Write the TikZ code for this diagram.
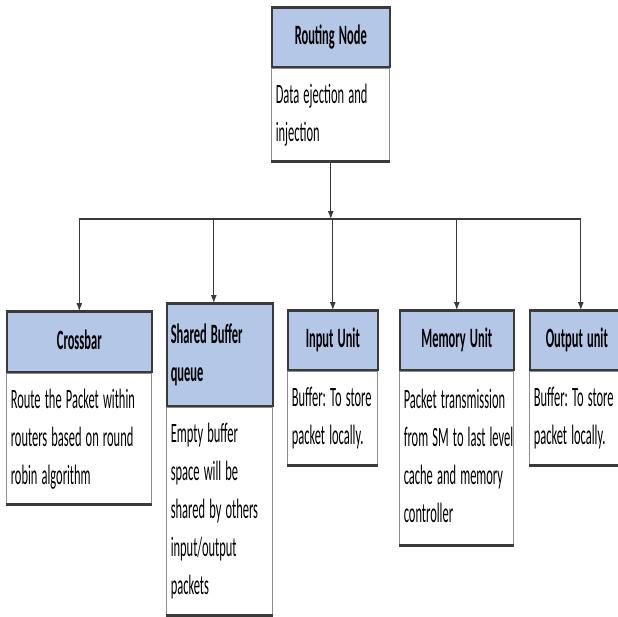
\documentclass[tikz,border=0pt]{standalone}
\usepackage{graphicx}
\usepackage{fontspec}
\setmainfont{Carlito}
\frenchspacing
\usetikzlibrary{arrows.meta,positioning}
\definecolor{hdblue}{HTML}{B4C7E7}
\definecolor{edgegray}{HTML}{8C8C8C}
\definecolor{linedark}{HTML}{3A3A3A}
% condensed lines of box text
\newcommand{\narrow}[1]{\scalebox{0.445}[1]{\begin{tabular}{@{}l@{}}#1\end{tabular}}}
\tikzset{
  hd/.style={rectangle,fill=hdblue,draw=linedark,line width=0.8pt,
    font=\fontsize{14pt}{19pt}\selectfont\bfseries,align=center,
    inner xsep=2pt,inner ysep=0pt,anchor=north west},
  bd/.style={rectangle,fill=white,draw=edgegray,line width=0.6pt,
    font=\fontsize{14pt}{19pt}\selectfont,align=left,
    inner xsep=2pt,inner ysep=4.25pt},
  arr/.style={-{Latex[length=4pt,width=3pt]},linedark,line width=0.5pt},
  bar/.style={linedark,line width=1.4pt},
  rim/.style={linedark,line width=1.5pt},
}

\begin{document}
\begin{tikzpicture}[x=0.5pt,y=-0.5pt]
\fill[white] (0,0) rectangle (618,617);
\useasboundingbox (0,0) rectangle (618,617);

% top of the tree
\node[hd,text width=55pt,minimum height=29.5pt] (route-hd) at (271,7) {\narrow{Routing Node}};
\node[bd,text width=55pt,minimum height=46pt,below=0pt of route-hd] (route-bd)
  {\narrow{Data ejection and\\injection}};

% the five units
\node[hd,text width=68.5pt,minimum height=30pt] (cross-hd) at (6,311) {\narrow{Crossbar}};
\node[bd,text width=68.5pt,minimum height=64.5pt,below=0pt of cross-hd] (cross-bd)
  {\narrow{Route the Packet within\\routers based on round\\robin algorithm}};

\node[hd,text width=49pt,minimum height=51pt,align=left] (shared-hd) at (166,303)
  {\narrow{Shared Buffer\\queue}};
\node[bd,text width=49pt,minimum height=104pt,below=0pt of shared-hd] (shared-bd)
  {\narrow{Empty buffer\\space will be\\shared by others\\input/output\\packets}};

\node[hd,text width=41pt,minimum height=29.5pt] (input-hd) at (287,310) {\narrow{Input Unit}};
\node[bd,text width=41pt,minimum height=47pt,below=0pt of input-hd] (input-bd)
  {\narrow{Buffer: To store\\packet locally.}};

\node[hd,text width=53pt,minimum height=29.5pt] (memory-hd) at (399,310) {\narrow{Memory Unit}};
\node[bd,text width=53pt,minimum height=87pt,below=0pt of memory-hd] (memory-bd)
  {\narrow{Packet transmission\\from SM to last level\\cache and memory\\controller}};

\node[hd,text width=43pt,minimum height=29.5pt] (output-hd) at (529,310) {\narrow{Output unit}};
\node[bd,text width=43pt,minimum height=47pt,below=0pt of output-hd] (output-bd)
  {\narrow{Buffer: To store\\packet locally.}};

% connectors
\coordinate (hub) at (331,219);
\draw[arr] (route-bd.south) -- (route-bd.south |- hub);
\draw[bar] (cross-hd.north |- hub) -- ([xshift=2pt]output-hd.north |- hub);
\foreach \n in {cross,input,memory}
  \draw[arr] (\n-hd.north |- hub) -- (\n-hd.north);
\draw[arr] ([xshift=-3pt]shared-hd.north |- hub) -- ([xshift=-3pt]shared-hd.north);
\draw[arr] ([xshift=2pt]output-hd.north |- hub) -- ([xshift=2pt]output-hd.north);

% darker top and bottom edges
\foreach \n in {route,cross,shared,input,memory,output}{
  \draw[rim] (\n-hd.north west) -- (\n-hd.north east);
  \draw[rim] (\n-bd.south west) -- (\n-bd.south east);
}
\end{tikzpicture}
\end{document}
